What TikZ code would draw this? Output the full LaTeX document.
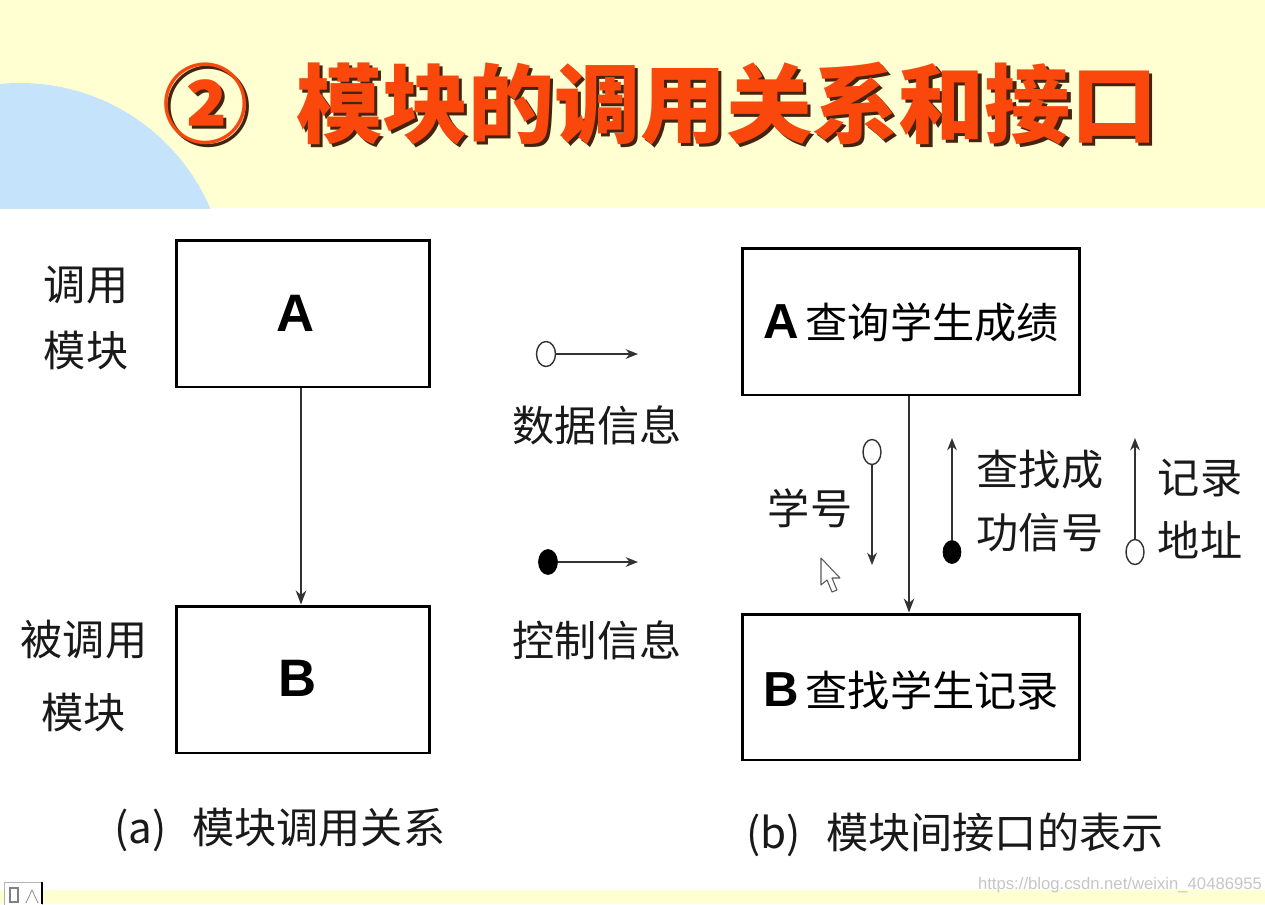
\documentclass[tikz,border=0pt]{standalone}
\usepackage{fontspec}
\setmainfont{Liberation Sans}
\newfontfamily\cjk{Noto Sans CJK SC}
\usetikzlibrary{arrows.meta,shapes.geometric}
\definecolor{bandyellow}{RGB}{255,255,210}
\definecolor{skyblue}{RGB}{197,227,250}
\definecolor{titleorange}{RGB}{250,72,12}
\definecolor{shadowc}{RGB}{70,35,15}
\definecolor{linegray}{RGB}{50,50,50}
\newcommand{\titletext}{②\hspace{0.55em}模块的调用关系和接口}
\begin{document}
\begin{tikzpicture}[x=0.02cm,y=-0.02cm,
  modbox/.style={draw=black,line width=1.7pt,inner sep=0pt},
  lbl/.style={font=\cjk\fontsize{24}{38}\selectfont,align=center,inner sep=0pt,text=black!90},
  sig/.style={draw=linegray,line width=0.8pt,-{Stealth[length=7pt,width=5.5pt]}},
  call/.style={draw=linegray,line width=0.8pt,-{Stealth[length=8pt,width=6pt]}},
  opendot/.style={ellipse,draw=linegray,line width=0.8pt,fill=white,minimum width=0.36cm,minimum height=0.5cm,inner sep=0pt},
  fulldot/.style={ellipse,draw=black,fill=black,minimum width=0.36cm,minimum height=0.46cm,inner sep=0pt},
  letter/.style={font=\bfseries\fontsize{30}{30}\selectfont}]
\useasboundingbox (0,0) rectangle (1265,904);
% backgrounds
\fill[white] (0,0) rectangle (1265,904);
\fill[bandyellow] (0,0) rectangle (1265,208);
\begin{scope}
  \clip (0,0) rectangle (1265,208);
  \fill[skyblue] (20,290) circle[radius=207];
\end{scope}
\fill[bandyellow] (0,890) rectangle (1265,904);
% bottom-left icon
\draw[fill=white,draw=gray!60] (4,882) rectangle (42,906);
\draw[line width=1pt] (42,882) -- (42,904);
\draw[gray] (26,903) -- (32,890) -- (38,903);
\draw[gray,line width=0.8pt] (10,888) rectangle (18,902);
% title (with shadow, one text)
\node[font=\cjk\bfseries\fontsize{49}{49}\selectfont,text=titleorange,inner sep=0pt] (title) at (660,105)
  {\makebox[0pt][l]{\hspace{1.8pt}\raisebox{-1.8pt}{\textcolor{shadowc}{\titletext}}}\titletext};
% (a)
\node[modbox,minimum width=5.08cm,minimum height=2.94cm] (LA) at (303,313.5) {};
\node[letter] (LAt) at (296,313) {A};
\node[modbox,minimum width=5.08cm,minimum height=2.94cm] (LB) at (303,679.5) {};
\node[letter] (LBt) at (298,678) {B};
\draw[call] (LA.south -| 301,0) -- (LB.north -| 301,0);
\node[lbl] (callerlbl) at (86,318) {调用\\模块};
\node[lbl,font=\cjk\fontsize{24}{41}\selectfont] (calleelbl) at (84,676) {被调用\\模块};
\node[lbl] (capa) at (280,830) {(a)\hspace{0.6em}模块调用关系};
% legend
\node[opendot,minimum width=0.38cm,minimum height=0.5cm] (d1) at (546,354) {};
\coordinate (d1e) at (638,354);
\draw[sig] (d1) -- (d1e);
\node[lbl] (datal) at (597,425) {数据信息};
\node[fulldot,minimum width=0.38cm,minimum height=0.5cm] (d2) at (548,562) {};
\coordinate (d2e) at (638,562);
\draw[sig] (d2) -- (d2e);
\node[lbl] (ctrll) at (597,640) {控制信息};
% (b)
\node[modbox,minimum width=6.76cm,minimum height=2.94cm] (RA) at (911,321.5) {};
\node[inner sep=0pt] (RAt) at (911,322) {{\bfseries\fontsize{28}{28}\selectfont A}\hspace{0.4em}{\cjk\fontsize{24}{24}\selectfont 查询学生成绩}};
\node[modbox,minimum width=6.76cm,minimum height=2.92cm] (RB) at (911,687) {};
\node[inner sep=0pt] (RBt) at (911,690) {{\bfseries\fontsize{28}{28}\selectfont B}\hspace{0.4em}{\cjk\fontsize{24}{24}\selectfont 查找学生记录}};
\draw[call] (RA.south -| 909,0) -- (RB.north -| 909,0);
% signals
\node[opendot] (s1) at (872,452) {};
\coordinate (s1e) at (872,565);
\draw[sig] (s1) -- (s1e);
\node[lbl] (s1l) at (810,508) {学号};
\node[fulldot] (s2) at (952,552) {};
\coordinate (s2e) at (952,438);
\draw[sig] (s2) -- (s2e);
\node[lbl,font=\cjk\fontsize{24}{36}\selectfont] (s2l) at (1040,501) {查找成\\功信号};
\node[opendot] (s3) at (1135,552) {};
\coordinate (s3e) at (1135,438);
\draw[sig] (s3) -- (s3e);
\node[lbl,font=\cjk\fontsize{24}{36}\selectfont] (s3l) at (1200,509) {记录\\地址};
\node[lbl] (capb) at (955,835) {(b)\hspace{0.6em}模块间接口的表示};
% mouse cursor
\draw[fill=white,draw=gray!70!black,line width=0.6pt,line join=round]
  (821,558) -- (821,585) -- (827,580) -- (832,592) -- (837,590) -- (832,578) -- (840,578) -- cycle;
% watermark
\node[text=gray!45,font=\fontsize{9.5}{9.5}\selectfont,inner sep=0pt] (wm) at (1120,885) {https://blog.csdn.net/weixin\_40486955};
\end{tikzpicture}
\end{document}
